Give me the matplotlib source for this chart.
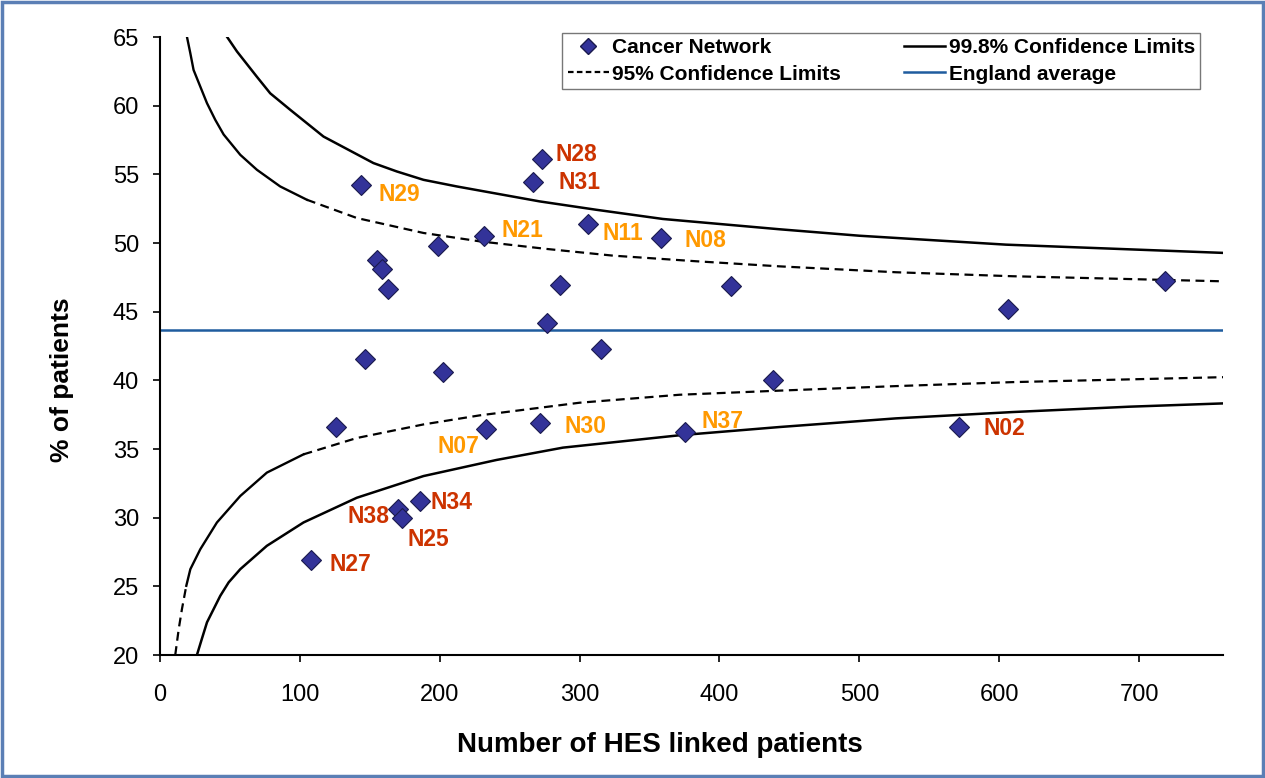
import matplotlib
matplotlib.use("Agg")
import matplotlib.pyplot as plt
from matplotlib.lines import Line2D
from matplotlib.patches import Rectangle

plt.rcParams['font.family'] = ['Liberation Sans', 'DejaVu Sans']

# Cancer networks: number of HES linked patients vs % of patients
net_x = [143.6, 155.0, 158.6, 162.9, 198.6, 231.7, 146.9, 202.1, 126.0, 233.1,
         186.0, 170.2, 173.1, 107.9, 273.1, 266.7, 305.9, 358.3, 285.7, 407.9,
         276.7, 315.2, 438.1, 271.9, 375.7, 606.2, 718.4, 571.4]
net_y = [54.19, 48.79, 48.11, 46.66, 49.76, 50.53, 41.57, 40.62, 36.58, 36.43,
         31.25, 30.66, 30.01, 26.93, 56.11, 54.41, 51.38, 50.34, 46.92, 46.85,
         44.14, 42.30, 40.01, 36.87, 36.23, 45.23, 47.26, 36.60]

england_avg = 43.7

# Control limits
upper998_x = [48.0, 55.0, 69.3, 78.8, 93.1, 116.9, 152.6, 169.3, 188.4, 212.1,
              271.4, 311.9, 359.5, 442.9, 500.0, 604.8, 760.0]
upper998_y = [65.0, 63.95, 62.1, 60.9, 59.7, 57.75, 55.82, 55.21, 54.6, 54.12,
              53.03, 52.42, 51.75, 51.0, 50.53, 49.88, 49.28]
upper95_x = [19.3, 21.7, 24.0, 28.8, 33.6, 39.5, 45.5, 57.4, 69.3, 85.9, 105.0,
             140.7, 188.4, 228.6, 276.2, 323.8, 383.4, 442.9, 526.2, 609.5, 760.0]
upper95_y = [65.0, 63.81, 62.6, 61.39, 60.18, 58.97, 57.9, 56.42, 55.33, 54.12,
             53.15, 51.82, 50.73, 50.12, 49.57, 49.08, 48.67, 48.3, 47.87, 47.58,
             47.21]
lower95_x = [10.9, 13.4, 15.7, 18.8, 21.7, 28.8, 40.7, 57.4, 76.4, 102.6, 140.7,
             188.4, 228.6, 300.0, 371.4, 442.9, 526.2, 609.5, 760.0]
lower95_y = [20.0, 21.9, 23.35, 25.04, 26.25, 27.7, 29.65, 31.58, 33.28, 34.61,
             35.8, 36.79, 37.45, 38.37, 38.95, 39.25, 39.58, 39.87, 40.23]
lower998_x = [26.4, 30.0, 33.6, 43.1, 49.1, 57.4, 66.9, 76.4, 102.6, 140.7,
              188.4, 240.5, 288.1, 371.4, 442.9, 526.2, 609.5, 692.9, 760.0]
lower998_y = [20.0, 21.2, 22.38, 24.31, 25.29, 26.25, 27.1, 27.95, 29.65,
              31.45, 33.03, 34.2, 35.1, 36.0, 36.6, 37.23, 37.69, 38.08, 38.32]

# Labelled networks: (name, index into the series, colour group)
label_names = ['N29', 'N21', 'N07', 'N34', 'N38', 'N25', 'N27', 'N28', 'N31',
               'N11', 'N08', 'N30', 'N37', 'N02']
label_index = [0, 5, 9, 10, 11, 12, 13, 14, 15, 16, 17, 23, 24, 27]
label_outer = [False, False, False, True, True, True, True, True, True,
               False, False, False, False, True]
# label offsets in pixels and horizontal alignment
label_dx = [18, 17, -7, 10, -9, 5, 19, 14, 25, 15, 23, 24, 16, 24]
label_dy = [-9, 5, -17, -2, -8, -22, -5, 5, 0, -9, -2, -3, 11, -1]
label_ha = ['left', 'left', 'right', 'left', 'right', 'left', 'left', 'left',
            'left', 'left', 'left', 'left', 'left', 'left']

RED = '#CC3300'
ORANGE = '#FF9900'
MARKER_FACE = '#333399'
AVG_BLUE = '#1F5C9E'
DASH = (0, (4, 2.5))

fig = plt.figure(figsize=(12.65, 7.78), dpi=100)
ax = fig.add_axes([160 / 1265, 1 - 655 / 778, (1223 - 160) / 1265, (655 - 37) / 778])


def draw_limit(xs, ys, solid_from, solid_to):
    """Draw a 95% limit: short, tightly spaced steps render solid, the rest dashed."""
    idx = [i for i, x in enumerate(xs) if solid_from <= x <= solid_to]
    i0, i1 = idx[0], idx[-1]
    ax.plot(xs[i0:i1 + 1], ys[i0:i1 + 1], color='black', lw=1.7,
            solid_joinstyle='round')
    if i0 > 0:
        ax.plot(xs[:i0 + 1], ys[:i0 + 1], color='black', lw=1.6, linestyle=DASH)
    ax.plot(xs[i1:], ys[i1:], color='black', lw=1.6, linestyle=DASH)


ax.plot(upper998_x, upper998_y, color='black', lw=1.8, solid_joinstyle='round')
ax.plot(lower998_x, lower998_y, color='black', lw=1.8, solid_joinstyle='round')
draw_limit(upper95_x, upper95_y, 0, 105)
draw_limit(lower95_x, lower95_y, 18, 103)
ax.axhline(england_avg, color=AVG_BLUE, lw=1.8)

ax.plot(net_x, net_y, linestyle='none', marker='D', markersize=10,
        markerfacecolor=MARKER_FACE, markeredgecolor='#1A1A4D',
        markeredgewidth=0.8, zorder=5)

for name, idx, outer, dx, dy, ha in zip(label_names, label_index, label_outer,
                                         label_dx, label_dy, label_ha):
    ax.annotate(name, (net_x[idx], net_y[idx]), xytext=(dx, dy),
                textcoords='offset pixels', ha=ha, va='center',
                fontsize=16.5, fontweight='bold',
                color=RED if outer else ORANGE, zorder=6)

ax.set_xlim(0, 760)
ax.set_ylim(20, 65)
ax.set_xticks(range(0, 701, 100))
ax.set_yticks(range(20, 66, 5))
ax.tick_params(axis='both', labelsize=17, length=5, width=1.2, direction='out',
               pad=10)
ax.tick_params(axis='x', pad=16)
for side in ('top', 'right'):
    ax.spines[side].set_visible(False)
for side in ('left', 'bottom'):
    ax.spines[side].set_linewidth(1.5)

ax.set_xlabel('Number of HES linked patients', fontsize=20, fontweight='bold')
ax.set_ylabel('% of patients', fontsize=19, fontweight='bold')
ax.xaxis.set_label_coords((660 - 160) / 1063, -(745 - 655) / 618)
ax.xaxis.label.set_va('center')
ax.yaxis.set_label_coords((62 - 160) / 1063, 1 - (380 - 37) / 618)
ax.yaxis.label.set_va('center')

handles = [
    Line2D([], [], linestyle='none', marker='D', markersize=8,
           markerfacecolor=MARKER_FACE, markeredgecolor='#1A1A4D'),
    Line2D([], [], color='black', lw=1.6, linestyle=(0, (2.5, 1.5))),
    Line2D([], [], color='black', lw=1.8),
    Line2D([], [], color=AVG_BLUE, lw=1.8),
]
labels = ['Cancer Network', '95% Confidence Limits', '99.8% Confidence Limits',
          'England average']
leg = fig.legend(handles, labels, ncol=2, loc='upper right',
                 bbox_to_anchor=(1200 / 1265, 1 - 33 / 778),
                 prop={'weight': 'bold', 'size': 15},
                 frameon=True, fancybox=False, borderpad=0.25,
                 columnspacing=3.0, handlelength=2.0, handletextpad=0.15,
                 labelspacing=0.35, borderaxespad=0)
leg.get_frame().set_edgecolor('#555555')
leg.get_frame().set_linewidth(1.0)

fig.patches.append(Rectangle((0.0015, 0.0025), 0.997, 0.995,
                             transform=fig.transFigure, fill=False,
                             edgecolor='#5B7FB5', linewidth=2.5))

fig.savefig('out.png', dpi=100)
